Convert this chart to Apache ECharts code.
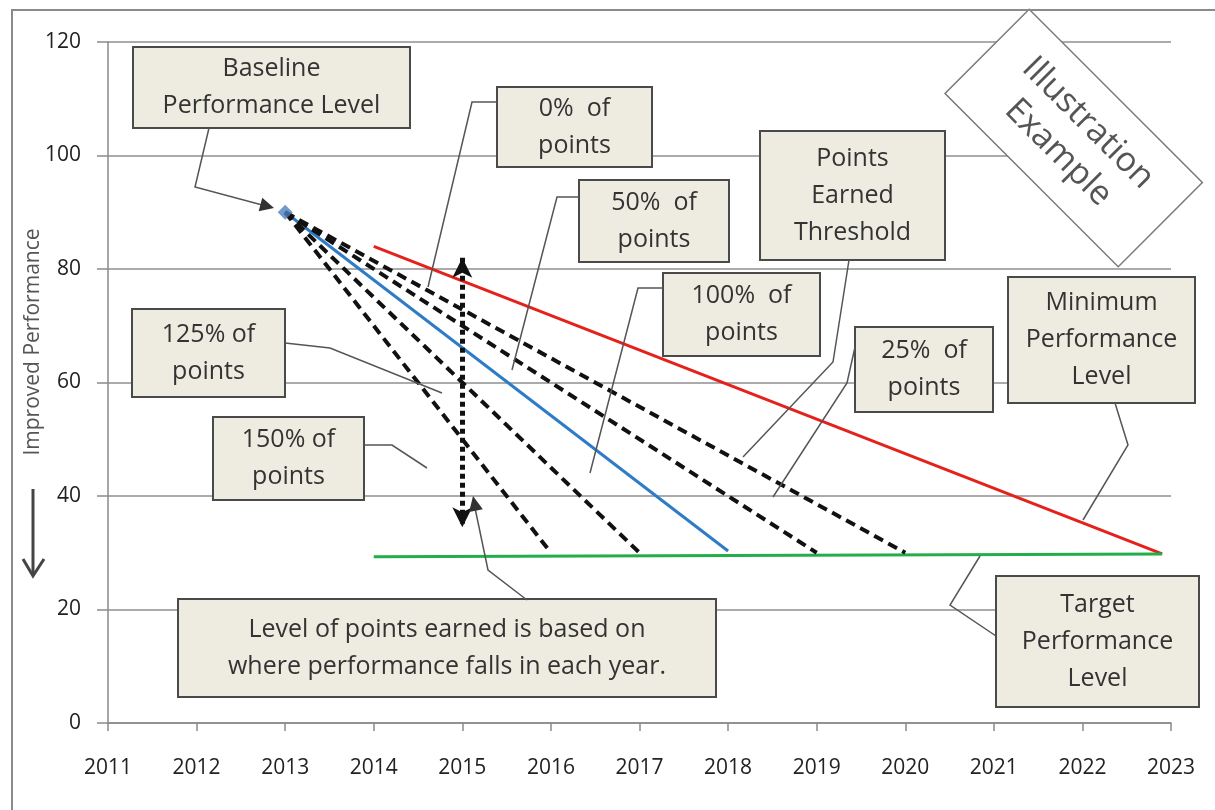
<!DOCTYPE html>
<html>
<head>
<meta charset="utf-8">
<title>Improved Performance</title>
<script src="https://cdn.jsdelivr.net/npm/echarts@6/dist/echarts.min.js"></script>
<style>
  html, body { margin: 0; padding: 0; background: #fff; }
  #chart { width: 1215px; height: 810px; }
</style>
</head>
<body>
<div id="chart"></div>
<script>
// values
var yearLabels = [2011, 2012, 2013, 2014, 2015, 2016, 2017, 2018, 2019, 2020, 2021, 2022, 2023];
var levelTicks = [0, 20, 40, 60, 80, 100, 120];

var baseline = [2013, 90];
var pathEndYears = [2016, 2017, 2019, 2020];   // dashed point paths
var pathEndLevel = 30;
var thresholdPath = [[2013, 90], [2018, 30.3]];  // blue
var minimumLevel = [[2014, 84], [2022.9, 29.8]]; // red
var targetLevel = [[2014, 29.3], [2022.9, 29.8]]; // green
var rangeArrow = [[2015, 82], [2015, 34.5]];

var FONT = '"Open Sans", "Liberation Sans", sans-serif';

var chart = echarts.init(document.getElementById('chart'));

var series = [
  {
    type: 'line', data: minimumLevel, symbol: 'none', z: 3,
    lineStyle: { color: '#e5211c', width: 3 }
  },
  {
    type: 'line', data: targetLevel, symbol: 'none', z: 3,
    lineStyle: { color: '#22ae4b', width: 3 }
  },
  {
    type: 'line', data: thresholdPath, symbol: 'none', z: 4,
    lineStyle: { color: '#2e7cc6', width: 3 }
  }
];

pathEndYears.forEach(function (yr) {
  series.push({
    type: 'line', data: [baseline, [yr, pathEndLevel]], symbol: 'none', z: 5,
    lineStyle: { color: '#111', width: 4, type: [10, 6] }
  });
});

// dotted double arrow at 2015
series.push({
  type: 'line', data: [], z: 6,
  markLine: {
    silent: true, animation: false,
    symbol: ['arrow', 'arrow'], symbolSize: [15, 20],
    label: { show: false },
    lineStyle: { color: '#111', width: 5, type: [5, 4] },
    data: [[{ coord: rangeArrow[0] }, { coord: rangeArrow[1] }]]
  }
});

// baseline point
series.push({
  type: 'scatter', data: [baseline], symbol: 'diamond', symbolSize: 15, z: 7,
  itemStyle: { color: '#4f81bd' }
});

chart.setOption({
  animation: false,
  backgroundColor: '#fff',
  grid: { left: 108, right: 44, top: 42, bottom: 87 },
  xAxis: {
    type: 'value',
    min: yearLabels[0], max: yearLabels[yearLabels.length - 1], interval: 1,
    axisLine: { lineStyle: { color: '#8a8a8a', width: 1.5 } },
    axisTick: { show: true, length: 8, lineStyle: { color: '#8a8a8a', width: 1.5 } },
    splitLine: { show: false },
    axisLabel: {
      color: '#222', fontSize: 21, fontFamily: FONT, margin: 35,
      formatter: function (v) { return String(v); }
    }
  },
  yAxis: {
    type: 'value',
    min: levelTicks[0], max: levelTicks[levelTicks.length - 1], interval: 20,
    axisLine: { show: true, lineStyle: { color: '#8a8a8a', width: 1.5 } },
    axisTick: { show: true, length: 11, lineStyle: { color: '#8a8a8a', width: 1.5 } },
    splitLine: { show: true, lineStyle: { color: '#8f8f8f', width: 1.5 } },
    axisLabel: { color: '#222', fontSize: 21, fontFamily: FONT, margin: 27 }
  },
  series: series
});

// annotations (pixel layout)
function box(x, y, w, h, text, lh) {
  return {
    type: 'group', x: x, y: y, z: 100,
    children: [
      { type: 'rect', shape: { x: 0, y: 0, width: w, height: h },
        style: { fill: '#eeece1', stroke: '#4a4a4a', lineWidth: 2 } },
      { type: 'text', x: w / 2, y: h / 2,
        style: { text: text, align: 'center', verticalAlign: 'middle',
                 textAlign: 'center', textVerticalAlign: 'middle',
                 font: '25px ' + FONT, fill: '#333', lineHeight: lh || 37 } }
    ]
  };
}

function callout(pts) {
  return { type: 'polyline', z: 90, shape: { points: pts },
           style: { stroke: '#555', lineWidth: 1.5, fill: null } };
}

function arrowHead(from, to, len, half, color) {
  var dx = to[0] - from[0], dy = to[1] - from[1];
  var d = Math.sqrt(dx * dx + dy * dy);
  var ux = dx / d, uy = dy / d;
  var bx = to[0] - ux * len, by = to[1] - uy * len;
  return { type: 'polygon', z: 91,
    shape: { points: [to, [bx - uy * half, by + ux * half], [bx + uy * half, by - ux * half]] },
    style: { fill: color } };
}

var graphics = [
  // outer frame
  { type: 'polyline', z: 1, shape: { points: [[12, 812], [12, 10], [1217, 10]] },
    style: { stroke: '#8a8a8a', lineWidth: 2, fill: null } },

  // y axis title and arrow
  { type: 'text', x: 33, y: 342, rotation: Math.PI / 2, z: 50,
    style: { text: 'Improved Performance', align: 'center', verticalAlign: 'middle',
             textAlign: 'center', textVerticalAlign: 'middle',
             font: '21px ' + FONT, fill: '#555' } },
  { type: 'line', z: 50, shape: { x1: 33, y1: 489, x2: 33, y2: 575 },
    style: { stroke: '#444', lineWidth: 3 } },
  { type: 'polyline', z: 50, shape: { points: [[23, 559], [33, 576], [44, 559]] },
    style: { stroke: '#444', lineWidth: 3, fill: null } },

  // callouts
  callout([[209, 128], [195, 187], [266, 206]]),
  arrowHead([195, 187], [274, 208], 14, 7, '#333'),
  callout([[497, 102], [472, 102], [428, 287]]),
  callout([[579, 197], [557, 197], [512, 370]]),
  callout([[663, 288], [638, 288], [590, 473]]),
  callout([[849, 260], [833, 362], [743, 457]]),
  callout([[855, 347], [847, 383], [773, 497]]),
  callout([[285, 343], [330, 348], [442, 393]]),
  callout([[364, 445], [392, 445], [427, 468]]),
  callout([[527, 600], [488, 570], [475, 508]]),
  arrowHead([488, 570], [473, 496], 15, 7, '#333'),
  callout([[1115, 403], [1128, 445], [1083, 520]]),
  callout([[996, 636], [950, 605], [980, 556]]),

  // boxes
  box(133, 47, 277, 81, 'Baseline\nPerformance Level'),
  box(497, 87, 155, 80, '0%  of\npoints'),
  box(579, 180, 150, 82, '50%  of\npoints'),
  box(760, 131, 185, 129, 'Points\nEarned\nThreshold'),
  box(663, 273, 157, 83, '100%  of\npoints'),
  box(855, 327, 138, 85, '25%  of\npoints'),
  box(132, 309, 153, 88, '125% of\npoints'),
  box(213, 417, 151, 83, '150% of\npoints'),
  box(178, 599, 538, 98, 'Level of points earned is based on\nwhere performance falls in each year.'),
  box(1008, 277, 187, 126, 'Minimum\nPerformance\nLevel'),
  box(996, 576, 203, 131, 'Target\nPerformance\nLevel'),

  // rotated stamp
  { type: 'group', x: 1073, y: 138, rotation: -Math.PI / 4, z: 110,
    children: [
      { type: 'rect', shape: { x: -122, y: -60, width: 245, height: 119 },
        style: { fill: '#fff', stroke: '#7a7a7a', lineWidth: 1.5 } },
      { type: 'text', x: 0, y: 0,
        style: { text: 'Illustration\nExample', align: 'center', verticalAlign: 'middle',
                 textAlign: 'center', textVerticalAlign: 'middle',
                 font: '34px ' + FONT, fill: '#555', lineHeight: 42 } }
    ] }
];

chart.setOption({ graphic: graphics });
</script>
</body>
</html>
